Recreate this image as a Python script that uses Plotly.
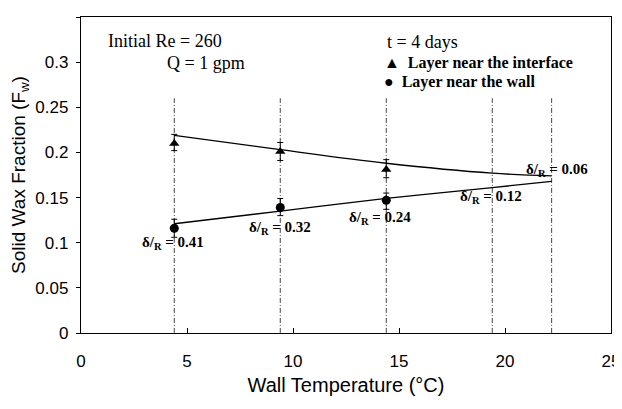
import plotly.graph_objects as go

# Data
temps = [4.4, 9.4, 14.4]
interface_fw = [0.210, 0.201, 0.181]
interface_err_plus = [0.010, 0.010, 0.011]
interface_err_minus = [0.008, 0.010, 0.009]
wall_fw = [0.116, 0.139, 0.147]
wall_err_plus = [0.010, 0.010, 0.008]
wall_err_minus = [0.010, 0.009, 0.010]

fit_temps = [4.4, 9.4, 14.4, 19.4, 22.2]
interface_fit = [0.219, 0.203, 0.188, 0.177, 0.174]
wall_fit = [0.121, 0.135, 0.149, 0.161, 0.168]

guide_temps = [4.4, 9.4, 14.4, 19.4, 22.2]
guide_range = [-0.011, 0.26]

delta_labels = ["0.41", "0.32", "0.24", "0.12", "0.06"]
delta_label_x = [4.35, 9.4, 14.1, 19.35, 22.45]
delta_label_y = [0.100, 0.116, 0.127, 0.151, 0.180]

x_ticks = [0, 5, 10, 15, 20, 25]
y_ticks = [0, 0.05, 0.1, 0.15, 0.2, 0.25, 0.3, 0.35]

fig = go.Figure()

# vertical dash-dot guide lines
for t in guide_temps:
    fig.add_trace(go.Scatter(
        x=[t, t], y=guide_range, mode="lines",
        line=dict(color="#444", width=1, dash="5px,2px,1px,2px"),
        cliponaxis=False, showlegend=False, hoverinfo="skip"))

# fitted lines
fig.add_trace(go.Scatter(x=fit_temps, y=interface_fit, mode="lines",
                         line=dict(color="black", width=1.3, shape="spline"),
                         showlegend=False))
fig.add_trace(go.Scatter(x=fit_temps, y=wall_fit, mode="lines",
                         line=dict(color="black", width=1.3, shape="spline"),
                         showlegend=False))

# data points
fig.add_trace(go.Scatter(
    x=temps, y=interface_fw, mode="markers", name="Layer near the interface",
    marker=dict(symbol="triangle-up", size=9, color="black"),
    error_y=dict(type="data", array=interface_err_plus, arrayminus=interface_err_minus,
                 color="black", thickness=1, width=3),
    showlegend=False))
fig.add_trace(go.Scatter(
    x=temps, y=wall_fw, mode="markers", name="Layer near the wall",
    marker=dict(symbol="circle", size=9, color="black"),
    error_y=dict(type="data", array=wall_err_plus, arrayminus=wall_err_minus,
                 color="black", thickness=1, width=3),
    showlegend=False))

serif = "Liberation Serif, Times New Roman, serif"
annotations = []
for lx, ly, lab in zip(delta_label_x, delta_label_y, delta_labels):
    annotations.append(dict(x=lx, y=ly, xref="x", yref="y", showarrow=False,
                            text="<b>δ/<sub>R</sub> = " + lab + "</b>",
                            font=dict(family=serif, size=15, color="black")))

# page has an 8px body margin; figure is sized to fit the 622x409 window
OFF = 8
W, H = 622 - OFF, 409 - OFF
PL, PR, PT, PB = 81, 611, 17, 333  # plot area in window pixels
for txt, px, py in [("Initial Re = 260", 106, 41), ("Q = 1 gpm", 165, 63), ("t = 4 days", 385, 42)]:
    annotations.append(dict(x=(px - PL) / (PR - PL), y=(PB - py) / (PB - PT),
                            xref="paper", yref="paper", text=txt, showarrow=False,
                            xanchor="left", yanchor="middle",
                            font=dict(family=serif, size=18, color="black")))

legend_items = [("▲", "Layer near the interface", 63), ("●", "Layer near the wall", 82)]
for sym, txt, py in legend_items:
    annotations.append(dict(x=(382 - PL) / (PR - PL), y=(PB - py) / (PB - PT), xref="paper", yref="paper",
                            showarrow=False, xanchor="left", yanchor="middle",
                            text="<b>" + sym + "  " + txt + "</b>",
                            font=dict(family=serif, size=16, color="black")))

fig.update_layout(
    width=W, height=H,
    margin=dict(l=PL - OFF, r=622 - PR, t=PT - OFF, b=409 - PB),
    paper_bgcolor="white", plot_bgcolor="white",
    annotations=annotations,
    font=dict(family="Liberation Sans, Arial, sans-serif", color="black"),
)
fig.update_xaxes(range=[0, 25], tickvals=x_ticks, ticktext=[str(v) for v in x_ticks],
                 showgrid=False, zeroline=False, showline=True, linecolor="black",
                 linewidth=1.3, mirror=True, ticks="inside", ticklen=5, tickcolor="black",
                 tickfont=dict(size=17), ticklabelstandoff=12, automargin=False,
                 title=dict(text="Wall Temperature (°C)", font=dict(size=20), standoff=8))
fig.update_yaxes(range=[0, 0.35], tickvals=y_ticks,
                 ticktext=["0", "0.05", "0.1", "0.15", "0.2", "0.25", "0.3", "0.35"],
                 showgrid=False, zeroline=False, showline=True, linecolor="black",
                 linewidth=1.3, mirror=True, ticks="outside", ticklen=4, tickcolor="black",
                 tickfont=dict(size=17), ticklabelstandoff=4, automargin=False,
                 title=dict(text="Solid Wax Fraction (F<sub>w</sub>)", font=dict(size=19), standoff=6))

fig.write_html("out.html")
